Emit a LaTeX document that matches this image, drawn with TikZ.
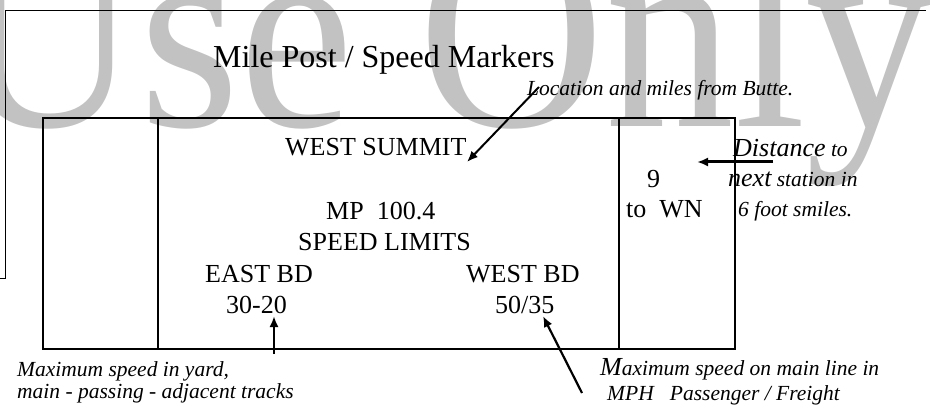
\documentclass[tikz,border=0pt]{standalone}
\usepackage{fontspec}
\setmainfont{Liberation Serif}
\usetikzlibrary{arrows.meta}
\tikzstyle{sign}=[anchor=base west,inner sep=0pt,font=\fontsize{26}{26}\selectfont]
\tikzstyle{note}=[anchor=base west,inner sep=0pt,font=\fontsize{21.5}{22}\selectfont\itshape]
\tikzstyle{frame}=[draw,line width=1.6pt]
\tikzstyle{arr}=[draw,-{Latex[length=11pt,width=9pt]}]
\newcommand{\bigword}[1]{{\fontsize{26}{26}\selectfont #1}}

\begin{document}
\begin{tikzpicture}[x=1pt,y=-1pt]
    \useasboundingbox (0,0) rectangle (930,409);
    \clip (0,0) rectangle (930,409);
    % watermark
    \node[anchor=base west,inner sep=0pt,text=black!24,
      font=\fontsize{258}{258}\selectfont] (mark) at (-47,127)
      {\scalebox{1}[1.08]{Use Only}};
    % page frame and sign board
    \draw[line width=1pt] (0,278) -- (5.5,278) -- (5.5,10.5) -- (926,10.5);
    \draw[frame] (43,118) rectangle (735,349);
    \draw[frame] (158,118) -- (158,349);
    \draw[frame] (619,118) -- (619,349);
    \node[anchor=base west,inner sep=0pt,font=\fontsize{32}{32}\selectfont]
      (title) at (213,68) {Mile Post / Speed Markers};
    \foreach \pos/\name/\val in {{(285,156)/stn/WEST SUMMIT},
    {(326,219)/mp/MP\ \ 100.4}, {(298,251)/lim/SPEED LIMITS},
    {(205,282)/eb/EAST BD}, {(226,313)/ebs/30-20}, {(466,282)/wb/WEST BD},
    {(495,313)/wbs/{50/35}}, {(647,188)/miles/9}, {(626,218)/next/to\ \ WN}}
        \node[sign] (\name) at \pos {\val};
    % notes
    \node[note] (loc) at (527,96) {Location and miles from Butte.};
    \node[note] (dist1) at (733,157) {\bigword{Distance} to};
    \node[note] (dist2) at (728,187) {\bigword{next} station in};
    \node[note] (dist3) at (738,217) {6 foot smiles.};
    \node[note] (yard1) at (17,376) {Maximum speed in yard,};
    \node[note] (yard2) at (17,398) {main - passing - adjacent tracks};
    \node[note] (main1) at (600,375) {\bigword{M}aximum speed on main line in};
    \node[note] (main2) at (607,400) {MPH\ \ \ Passenger / Freight};
    \coordinate (locA) at (539,87);   \coordinate (locB) at (467,162);
    \coordinate (distA) at (773,162); \coordinate (distB) at (697,162);
    \coordinate (yardA) at (274,354); \coordinate (yardB) at (274,316);
    \coordinate (mainA) at (582,393); \coordinate (mainB) at (543,316);
    \foreach \source/\dest/\lw in {locA/locB/2, distA/distB/3,
    yardA/yardB/2.2, mainA/mainB/2.2}
        \path[arr,line width=\lw pt] (\source) -- (\dest);
\end{tikzpicture}
\end{document}
